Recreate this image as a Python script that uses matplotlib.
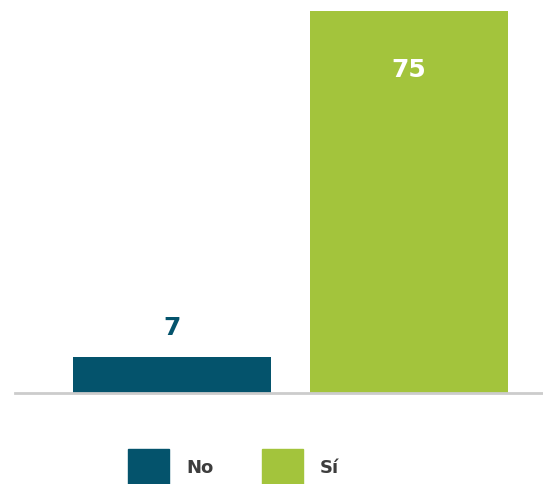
import matplotlib.pyplot as plt
from matplotlib.patches import Rectangle

# --- data ---
categories = ['No', 'Sí']
values = [7, 75]
colors = ['#04536c', '#a3c43c']
label_colors = ['#04536c', '#ffffff']

fig = plt.figure(figsize=(5.43, 4.84), dpi=100)
ax = fig.add_axes([15 / 543, 91 / 484, 528 / 543, 382 / 484])

x = list(range(len(categories)))
bars = ax.bar(x, values, width=0.835, color=colors, zorder=2)

ax.set_xlim(-0.662, 1.565)
ax.set_ylim(0, 75)
ax.axis('off')

# baseline
ax.axhline(0, color='#cccccc', linewidth=2, zorder=3, clip_on=False)

# value labels: small bar gets label above, tall bar gets label inside
for xi, v, c in zip(x, values, label_colors):
    if v > 20:
        ax.text(xi, v - 11.5, str(v), ha='center', va='center', color=c,
                fontsize=18, fontweight='heavy', family='DejaVu Sans')
    else:
        ax.text(xi, v + 5.8, str(v), ha='center', va='center', color=c,
                fontsize=18, fontweight='heavy', family='DejaVu Sans')

# custom legend
leg = fig.add_axes([0, 0, 1, 91 / 484])
leg.set_xlim(0, 543)
leg.set_ylim(91, 0)
leg.axis('off')
leg_x = [128, 262]
for lx, cat, col in zip(leg_x, categories, colors):
    leg.add_patch(Rectangle((lx, 56), 41, 40, color=col, clip_on=False))
    leg.text(lx + 58, 75, cat, ha='left', va='center', color='#3d3d3d',
             fontsize=13, fontweight='bold', family='DejaVu Sans')

fig.savefig('out.png', dpi=100)
